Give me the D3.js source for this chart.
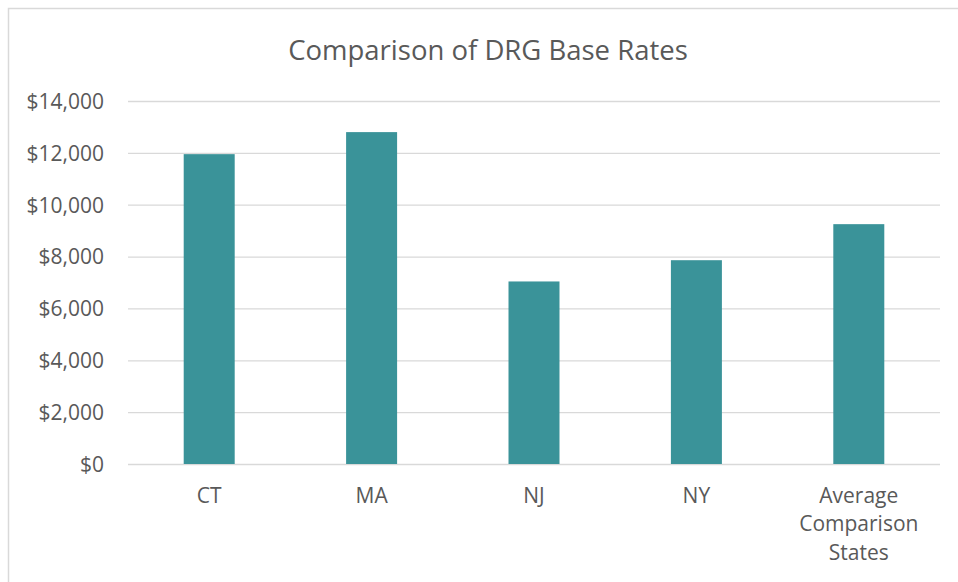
<!DOCTYPE html>
<html>
<head>
<meta charset="utf-8">
<script src="https://cdn.jsdelivr.net/npm/d3@7"></script>
<style>
  html, body { margin: 0; padding: 0; background: #fff; }
  #chart { width: 958px; height: 582px; }
  text { font-family: "Open Sans", "Noto Sans", sans-serif; fill: #595959; }
</style>
</head>
<body>
<div id="chart"></div>
<script>
// Chart data
const categories = ["CT", "MA", "NJ", "NY", "Average Comparison States"];
const baseRates = [11950, 12800, 7040, 7860, 9250];
const yTicks = [0, 2000, 4000, 6000, 8000, 10000, 12000, 14000];
const chartTitle = "Comparison of DRG Base Rates";

const width = 958, height = 582;
const margin = { top: 101, right: 18, bottom: 118, left: 128 };
const innerW = width - margin.left - margin.right;
const innerH = height - margin.top - margin.bottom;

const svg = d3.select("#chart").append("svg")
              .attr("width", width)
              .attr("height", height);

// Outer chart frame (cropped on the right and bottom)
svg.append("rect")
   .attr("x", 8.5).attr("y", 8.5)
   .attr("width", width + 10).attr("height", height + 10)
   .style("fill", "none")
   .style("stroke", "#d9d9d9")
   .style("stroke-width", 1.5);

// Title
svg.append("text")
   .attr("x", 488)
   .attr("y", 60)
   .attr("text-anchor", "middle")
   .style("font-size", "27.5px")
   .text(chartTitle);

const g = svg.append("g")
             .attr("transform", `translate(${margin.left}, ${margin.top})`);

// Scales
const x = d3.scaleBand()
            .domain(categories)
            .range([0, innerW])
            .paddingInner(0.686)
            .paddingOuter(0.343);

const y = d3.scaleLinear()
            .domain([0, 14000])
            .range([innerH, 0]);

// Y axis with gridlines
const yAxis = g.append("g")
               .call(d3.axisLeft(y)
                       .tickValues(yTicks)
                       .tickSize(-innerW)
                       .tickPadding(24)
                       .tickFormat(d3.format("$,")));
yAxis.select(".domain").remove();
yAxis.selectAll("line")
     .style("stroke", "#d9d9d9")
     .style("stroke-width", 1.3);
yAxis.selectAll("text")
     .style("font-size", "21px")
     .style("fill", "#595959")
     .attr("dy", "0.35em");

// Bars
g.selectAll("rect.bar")
 .data(baseRates)
 .join("rect")
 .attr("class", "bar")
 .attr("x", (d, i) => x(categories[i]))
 .attr("y", d => y(d))
 .attr("width", x.bandwidth())
 .attr("height", d => innerH - y(d))
 .style("fill", "#3a9399");

// X axis labels (wrapped)
const xAxis = g.append("g")
               .attr("transform", `translate(0, ${innerH})`)
               .call(d3.axisBottom(x).tickSize(0).tickPadding(0));
xAxis.select(".domain").remove();
xAxis.selectAll("text")
     .style("font-size", "21px")
     .style("fill", "#595959")
     .attr("y", 38.5)
     .attr("dy", 0)
     .each(function(d) {
         const words = d.split(" ");
         const t = d3.select(this).text(null);
         words.forEach((w, i) => {
             t.append("tspan")
              .attr("x", 0)
              .attr("dy", i === 0 ? 0 : 28.7)
              .text(w);
         });
     });
</script>
</body>
</html>
